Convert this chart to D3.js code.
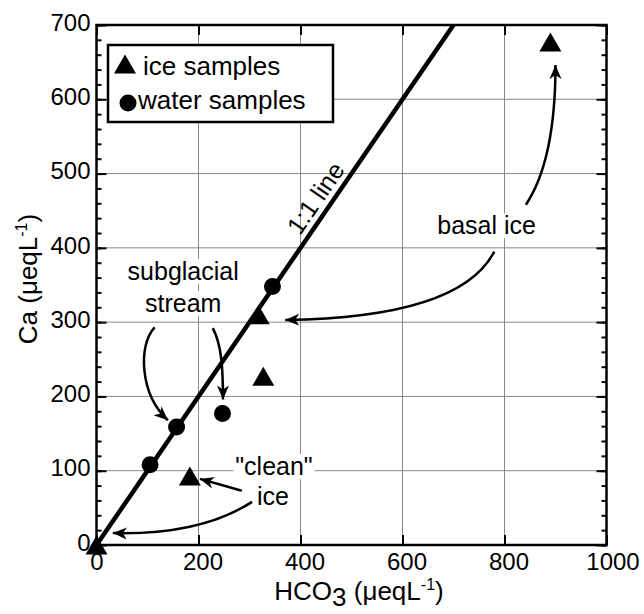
<!DOCTYPE html>
<html>
<head>
<meta charset="utf-8">
<script src="https://cdn.jsdelivr.net/npm/d3@7"></script>
<style>
  body { margin: 0; background: #fff; }
  svg text { font-family: "Liberation Sans", Arial, sans-serif; fill: #000; }
</style>
</head>
<body>
<div id="chart"></div>
<script>
// ice samples (triangles)
var iceHCO3 = [0, 183, 318, 327, 890];
var iceCa   = [0, 93, 310, 227, 677];
// water samples (circles)
var waterHCO3 = [105, 157, 247, 345];
var waterCa   = [108, 159, 177, 348];

var xTicks = [0, 200, 400, 600, 800, 1000];
var yTicks = [0, 100, 200, 300, 400, 500, 600, 700];
var yMinor = d3.range(0, 701, 20);

// annotation texts and arrows (in data units)
var notes = [
  {text: "basal ice", x: 765, y: 418},
  {text: "subglacial", x: 170, y: 357},
  {text: "stream", x: 170, y: 314},
  {text: "\"clean\"", x: 348, y: 94},
  {text: "ice", x: 346, y: 54}
];
var arrows = [
  [[842, 458], [900, 518], [900, 646]],
  [[780, 395], [713, 306], [370, 303]],
  [[114, 293], [81, 269], [85, 202], [140, 168]],
  [[228, 292], [246, 269], [248, 235], [248, 196]],
  [[285, 73], [244, 81], [203, 89]],
  [[305, 58], [203, 13], [32, 16]]
];

var W = 644, H = 614;
var x = d3.scaleLinear().domain([0, 1000]).range([96.5, 606.5]);
var y = d3.scaleLinear().domain([0, 700]).range([545, 25]);

var svg = d3.select("#chart").append("svg")
  .attr("width", W).attr("height", H);

svg.append("defs").append("marker")
  .attr("id", "head")
  .attr("viewBox", "-14 -7 16 14")
  .attr("refX", 0).attr("refY", 0)
  .attr("markerWidth", 16).attr("markerHeight", 14)
  .attr("markerUnits", "userSpaceOnUse")
  .attr("orient", "auto")
  .append("path")
  .attr("d", "M0,0 L-14,-6 L-10,0 L-14,6 Z")
  .attr("fill", "#000");

//grid lines
var grid = svg.append("g").attr("stroke", "#888").attr("stroke-width", 1);
grid.selectAll(".gx").data([200, 400, 600, 800]).enter().append("line")
  .attr("x1", function(d){ return x(d); }).attr("x2", function(d){ return x(d); })
  .attr("y1", y(0)).attr("y2", y(700));
grid.selectAll(".gy").data([100, 200, 300, 400, 500, 600]).enter().append("line")
  .attr("y1", function(d){ return y(d); }).attr("y2", function(d){ return y(d); })
  .attr("x1", x(0)).attr("x2", x(1000));

//1:1 line
svg.append("clipPath").attr("id", "clip").append("rect")
  .attr("x", x(0)).attr("y", y(700)).attr("width", x(1000) - x(0)).attr("height", y(0) - y(700));
svg.append("line")
  .attr("clip-path", "url(#clip)")
  .attr("x1", x(0)).attr("y1", y(0)).attr("x2", x(700)).attr("y2", y(700))
  .attr("stroke", "#000").attr("stroke-width", 4.5);

var ang = Math.atan2(y(700) - y(0), x(700) - x(0)) * 180 / Math.PI;
var lp = [x(455), y(455)];
var off = 7;
var rad = ang * Math.PI / 180;
svg.append("text")
  .attr("transform", "translate(" + (lp[0] + off * Math.sin(rad)) + "," + (lp[1] - off * Math.cos(rad)) + ") rotate(" + ang + ")")
  .attr("text-anchor", "middle")
  .style("font-size", "25px")
  .text("1:1 line");

//axes
function styleAxis(g){
  g.select(".domain").remove();
  g.selectAll("line").attr("stroke", "#000").attr("stroke-width", 2);
  g.selectAll("text").style("font-size", "24px").attr("fill", "#000");
}
svg.append("g").attr("transform", "translate(" + x(0) + ",0)")
  .call(d3.axisLeft(y).tickValues(yMinor).tickSize(-5).tickFormat(""))
  .call(styleAxis);
svg.append("g").attr("transform", "translate(" + x(0) + ",0)")
  .call(d3.axisLeft(y).tickValues(yTicks).tickSize(-10).tickPadding(6).tickFormat(d3.format("d")))
  .call(styleAxis)
  .selectAll("text").attr("dy", "0.22em");
svg.append("g").attr("transform", "translate(" + x(1000) + ",0)")
  .call(d3.axisRight(y).tickValues(yMinor).tickSize(-5).tickFormat(""))
  .call(styleAxis);
svg.append("g").attr("transform", "translate(" + x(1000) + ",0)")
  .call(d3.axisRight(y).tickValues(yTicks).tickSize(-10).tickFormat(""))
  .call(styleAxis);
svg.append("g").attr("transform", "translate(0," + y(0) + ")")
  .call(d3.axisBottom(x).tickValues(xTicks).tickSize(-10).tickPadding(8).tickFormat(d3.format("d")))
  .call(styleAxis)
  .selectAll("text").attr("dx", function(d){ return d === 0 ? 0 : (d === 1000 ? 6 : 4); });
svg.append("g").attr("transform", "translate(0," + y(700) + ")")
  .call(d3.axisTop(x).tickValues(xTicks).tickSize(-10).tickFormat(""))
  .call(styleAxis);

svg.append("rect")
  .attr("x", x(0)).attr("y", y(700)).attr("width", x(1000) - x(0)).attr("height", y(0) - y(700))
  .attr("fill", "none").attr("stroke", "#000").attr("stroke-width", 2.5);

//axis titles
var xt = svg.append("text").attr("x", 359).attr("y", 600)
  .attr("text-anchor", "middle").style("font-size", "26px");
xt.append("tspan").text("HCO");
xt.append("tspan").attr("dy", 6).text("3");
xt.append("tspan").attr("dy", -6).text(" (\u03bceqL");
xt.append("tspan").attr("dy", -10).style("font-size", "16px").text("-1");
xt.append("tspan").attr("dy", 10).text(")");

var yt = svg.append("text").attr("transform", "translate(37,279) rotate(-90)")
  .attr("text-anchor", "middle").style("font-size", "26px");
yt.append("tspan").text("Ca (\u03bceqL");
yt.append("tspan").attr("dy", -10).style("font-size", "16px").text("-1");
yt.append("tspan").attr("dy", 10).text(")");

//annotations
var noteG = svg.append("g");
notes.forEach(function(n){
  var g = noteG.append("g");
  var t = g.append("text").attr("x", x(n.x)).attr("y", y(n.y))
    .attr("text-anchor", "middle").style("font-size", "25px").text(n.text);
  var b = t.node().getBBox();
  g.insert("rect", "text")
    .attr("x", b.x - 2).attr("y", b.y + 2).attr("width", b.width + 4).attr("height", b.height - 3)
    .attr("fill", "#fff");
});

var curve = function(p){
  var q = p.map(function(d){ return [x(d[0]), y(d[1])]; });
  if(q.length == 3)
    return "M" + q[0] + "Q" + q[1] + " " + q[2];
  return "M" + q[0] + "C" + q[1] + " " + q[2] + " " + q[3];
};
svg.selectAll(".arrow").data(arrows).enter().append("path")
  .attr("d", curve)
  .attr("fill", "none").attr("stroke", "#000").attr("stroke-width", 2.5)
  .attr("marker-end", "url(#head)");

//data points
var tri = function(cx, cy, w, h){
  return "M" + cx + "," + (cy - h/2) + "L" + (cx + w/2) + "," + (cy + h/2) + "L" + (cx - w/2) + "," + (cy + h/2) + "Z";
};
svg.selectAll(".ice").data(iceHCO3).enter().append("path")
  .attr("d", function(d, i){ return tri(x(d), y(iceCa[i]), 22, 19); })
  .attr("fill", "#000");
svg.selectAll(".water").data(waterHCO3).enter().append("circle")
  .attr("cx", function(d){ return x(d); })
  .attr("cy", function(d, i){ return y(waterCa[i]); })
  .attr("r", 8.5).attr("fill", "#000");

//legend
var leg = svg.append("g");
leg.append("rect").attr("x", 108).attr("y", 45).attr("width", 225).attr("height", 77)
  .attr("fill", "#fff").attr("stroke", "#000").attr("stroke-width", 2.5);
leg.append("path").attr("d", tri(125, 64, 22, 19)).attr("fill", "#000");
leg.append("text").attr("x", 143).attr("y", 75).style("font-size", "26px").text("ice samples");
leg.append("circle").attr("cx", 128).attr("cy", 103).attr("r", 8.5).attr("fill", "#000");
leg.append("text").attr("x", 138).attr("y", 109).style("font-size", "26px").text("water samples");
</script>
</body>
</html>
